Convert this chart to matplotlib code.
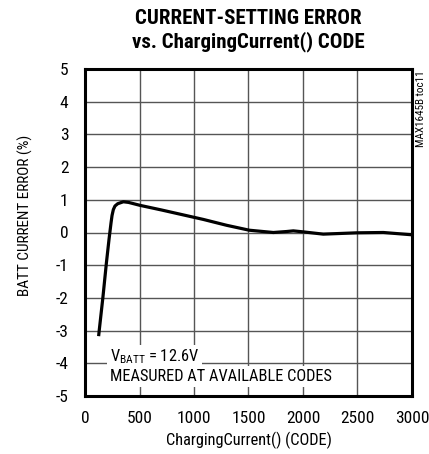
import matplotlib
matplotlib.use("Agg")
import matplotlib.pyplot as plt

plt.rcParams['font.family'] = ['Roboto Condensed', 'DejaVu Sans']
plt.rcParams['axes.unicode_minus'] = False
plt.rcParams['mathtext.fontset'] = 'custom'
plt.rcParams['mathtext.rm'] = 'Roboto Condensed'

codes = [125, 131, 165, 196, 220, 239, 248, 260, 275, 300, 352, 400, 505, 700,
         1085, 1300, 1507, 1728, 1850, 1911, 2000, 2186, 2492, 2737, 3000]
error = [-3.17, -2.98, -1.96, -0.94, -0.22, 0.30, 0.52, 0.70, 0.81, 0.88, 0.94, 0.92,
         0.83, 0.69, 0.40, 0.22, 0.07, 0.00, 0.03, 0.05, 0.02, -0.05, -0.01, 0.00, -0.07]

xticks = [0, 500, 1000, 1500, 2000, 2500, 3000]
yticks = [-5, -4, -3, -2, -1, 0, 1, 2, 3, 4, 5]

W, H = 429, 454
fig = plt.figure(figsize=(W / 100, H / 100), dpi=100)
ax = fig.add_axes([85 / W, (H - 396) / H, 327 / W, 327 / H])

ax.plot(codes, error, color='black', lw=2.3, solid_capstyle='butt', zorder=3)

ax.set_xlim(0, 3000)
ax.set_ylim(-5, 5)
ax.set_xticks(xticks)
ax.set_yticks(yticks)
ax.grid(True, color='#555555', lw=1.0, zorder=1)
ax.tick_params(length=0, labelsize=12.5)
ax.tick_params(axis='y', pad=12)
ax.tick_params(axis='x', pad=11)
for s in ax.spines.values():
    s.set_linewidth(2.2)
    s.set_zorder(4)

ax.set_xlabel('ChargingCurrent() (CODE)', fontsize=11.8, labelpad=4)
fig.text(25 / W, 1 - 215 / H, 'BATT CURRENT ERROR (%)', rotation=90,
         fontsize=11, ha='center', va='center')

fig.text(248.5 / W, 1 - 18 / H, 'CURRENT-SETTING ERROR', fontsize=15,
         fontweight='bold', ha='center', va='center')
fig.text(248.5 / W, 1 - 42 / H, 'vs. ChargingCurrent() CODE', fontsize=15,
         fontweight='bold', ha='center', va='center')

fig.text(421 / W, 1 - 109 / H, 'MAX1645B toc11', rotation=90, fontsize=8,
         ha='center', va='center')

ax.text(230, -3.8, r'V$_{\mathregular{BATT}}$ = 12.6V', fontsize=11.8,
        ha='left', va='center', zorder=5,
        bbox=dict(facecolor='white', edgecolor='none', pad=2))
ax.text(230, -4.4, 'MEASURED AT AVAILABLE CODES', fontsize=11.8,
        ha='left', va='center', zorder=5,
        bbox=dict(facecolor='white', edgecolor='none', pad=2))

fig.savefig('out.png', dpi=100)
